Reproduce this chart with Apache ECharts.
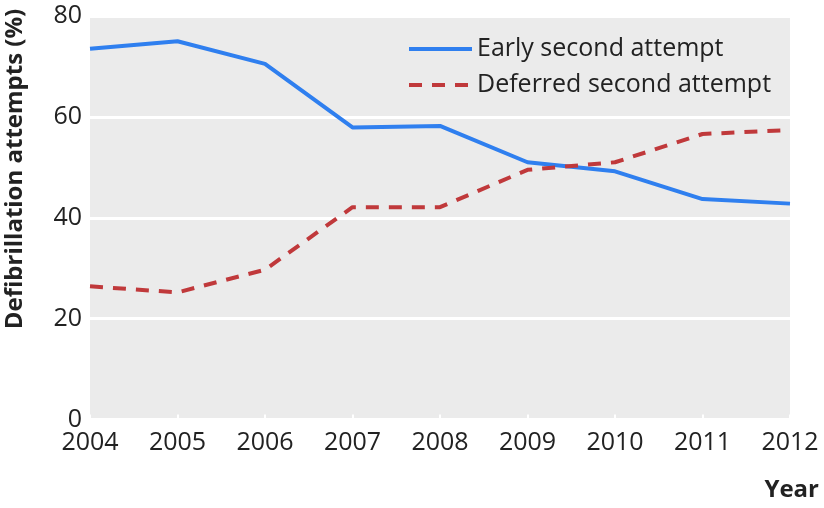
<!DOCTYPE html>
<html>
<head>
<meta charset="utf-8">
<script src="https://cdn.jsdelivr.net/npm/echarts@6/dist/echarts.min.js"></script>
<style>html,body{margin:0;padding:0;background:#fff}#c{width:824px;height:508px}</style>
</head>
<body>
<div id="c"></div>
<script>
var years = ['2004','2005','2006','2007','2008','2009','2010','2011','2012'];
var earlySecond = [73.5, 75.0, 70.5, 57.9, 58.2, 51.0, 49.2, 43.7, 42.8];
var deferredSecond = [26.4, 25.2, 29.7, 42.1, 42.1, 49.5, 51.0, 56.6, 57.4];
var yTicks = [0, 20, 40, 60, 80];
var seriesNames = ['Early second attempt', 'Deferred second attempt'];
var yTitle = 'Defibrillation attempts (%)';
var xTitle = 'Year';

var FONT = '"Open Sans", sans-serif';
var BLUE = '#2f7fef', RED = '#c0393b', DASH = [13, 10];
var chart = echarts.init(document.getElementById('c'), null, {renderer: 'canvas'});
chart.setOption({
  animation: false,
  backgroundColor: '#ffffff',
  grid: {left: 90, right: 34, top: 16, bottom: 88.5, show: true, backgroundColor: '#ebebeb', borderWidth: 0},
  legend: {
    orient: 'vertical', left: 402, top: 29,
    itemWidth: 63, itemHeight: 20, itemGap: 6,
    itemStyle: {opacity: 0},
    textStyle: {fontFamily: FONT, fontSize: 25, color: '#222', lineHeight: 30},
    data: [
      {name: seriesNames[0], lineStyle: {color: BLUE, width: 4, type: 'solid'}},
      {name: seriesNames[1], lineStyle: {color: RED, width: 4, type: DASH}}
    ]
  },
  xAxis: {
    type: 'category', data: years, boundaryGap: false,
    axisLine: {show: false},
    axisTick: {show: true, inside: true, length: 5, lineStyle: {color: '#ffffff', width: 2}},
    axisLabel: {fontFamily: FONT, fontSize: 25, color: '#222', margin: 11},
    splitLine: {show: false}
  },
  yAxis: {
    type: 'value', min: yTicks[0], max: yTicks[yTicks.length - 1], interval: 20,
    axisLine: {show: false}, axisTick: {show: false},
    axisLabel: {fontFamily: FONT, fontSize: 25, color: '#222', margin: 8},
    splitLine: {show: true, lineStyle: {color: '#ffffff', width: 3}}
  },
  graphic: [
    {type: 'text', x: 15, y: 169, rotation: Math.PI / 2,
     style: {text: yTitle, fontFamily: FONT, fontSize: 24, fontWeight: 'bold', fill: '#222',
             align: 'center', verticalAlign: 'middle'}},
    {type: 'text', right: 5, top: 478,
     style: {text: xTitle, fontFamily: FONT, fontSize: 24, fontWeight: 'bold', fill: '#222'}}
  ],
  series: [
    {name: seriesNames[0], type: 'line', data: earlySecond, symbol: 'none',
     lineStyle: {color: BLUE, width: 4}, itemStyle: {color: BLUE}},
    {name: seriesNames[1], type: 'line', data: deferredSecond, symbol: 'none',
     lineStyle: {color: RED, width: 4, type: DASH}, itemStyle: {color: RED}}
  ]
});
</script>
</body>
</html>
